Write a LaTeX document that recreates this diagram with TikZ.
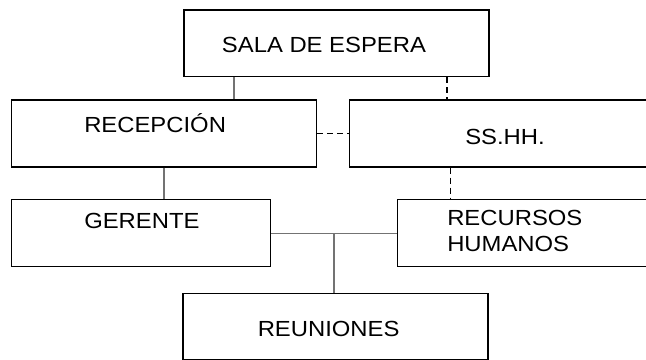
\documentclass[tikz,border=0pt]{standalone}
\usepackage{fontspec}
\setmainfont{Liberation Sans}[FakeStretch=1.09]
\usetikzlibrary{calc}
\begin{document}
\begin{tikzpicture}[x=0.75pt,y=-0.75pt,
  box/.style={draw=black,line width=0.8pt,rectangle,inner sep=0pt,minimum height=50.2pt},
  lbl/.style={anchor=base west,inner sep=0pt,font=\fontsize{16.4}{19}\selectfont},
  link/.style={draw=black!55,line width=1pt},
  dlink/.style={draw=black,line width=0.8pt,dash pattern=on 4.5pt off 3pt}]
\useasboundingbox (0,0) rectangle (646,360);
\clip (0,0) rectangle (646,360);
% boxes
\node[box,minimum width=228.75pt] (sala) at (336.5,43.5) {};
\node[box,minimum width=228.5pt] (rec) at (164,133.5) {};
\node[box,minimum width=228.75pt] (ss) at (502.4,133.5) {};
\node[box,minimum width=194.2pt] (ger) at (141.1,233.2) {};
\node[box,minimum width=228.75pt] (rrhh) at (550.2,233.2) {};
\node[box,minimum width=228.75pt] (reu) at (335.5,326.5) {};
% labels
\node[lbl] (tsala) at (221.7,52.7) {SALA DE ESPERA};
\node[lbl] (trec) at (84,132.3) {RECEPCIÓN};
\node[lbl] (tss) at (465,144) {SS.HH.};
\node[lbl] (tger) at (84,228.3) {GERENTE};
\node[lbl] (trr1) at (447,225) {RECURSOS};
\node[lbl] (trr2) at (447,251) {HUMANOS};
\node[lbl] (treu) at (257.5,336.7) {REUNIONES};
% connectors
\draw[link] (sala.south -| 234,0) -- (rec.north -| 234,0);
\draw[dlink] (sala.south -| 447,0) -- (ss.north -| 447,0);
\draw[dlink] (rec.east) -- (ss.west);
\draw[link] (rec.south) -- (ger.north -| rec.south);
\draw[dlink] (ss.south -| 450.5,0) -- (rrhh.north -| 450.5,0);
\draw[link] (ger.east) -- (rrhh.west);
\coordinate (j) at ($(ger.east)!0.5!(rrhh.west)$);
\draw[link] (j) -- (reu.north -| j);
\end{tikzpicture}
\end{document}
